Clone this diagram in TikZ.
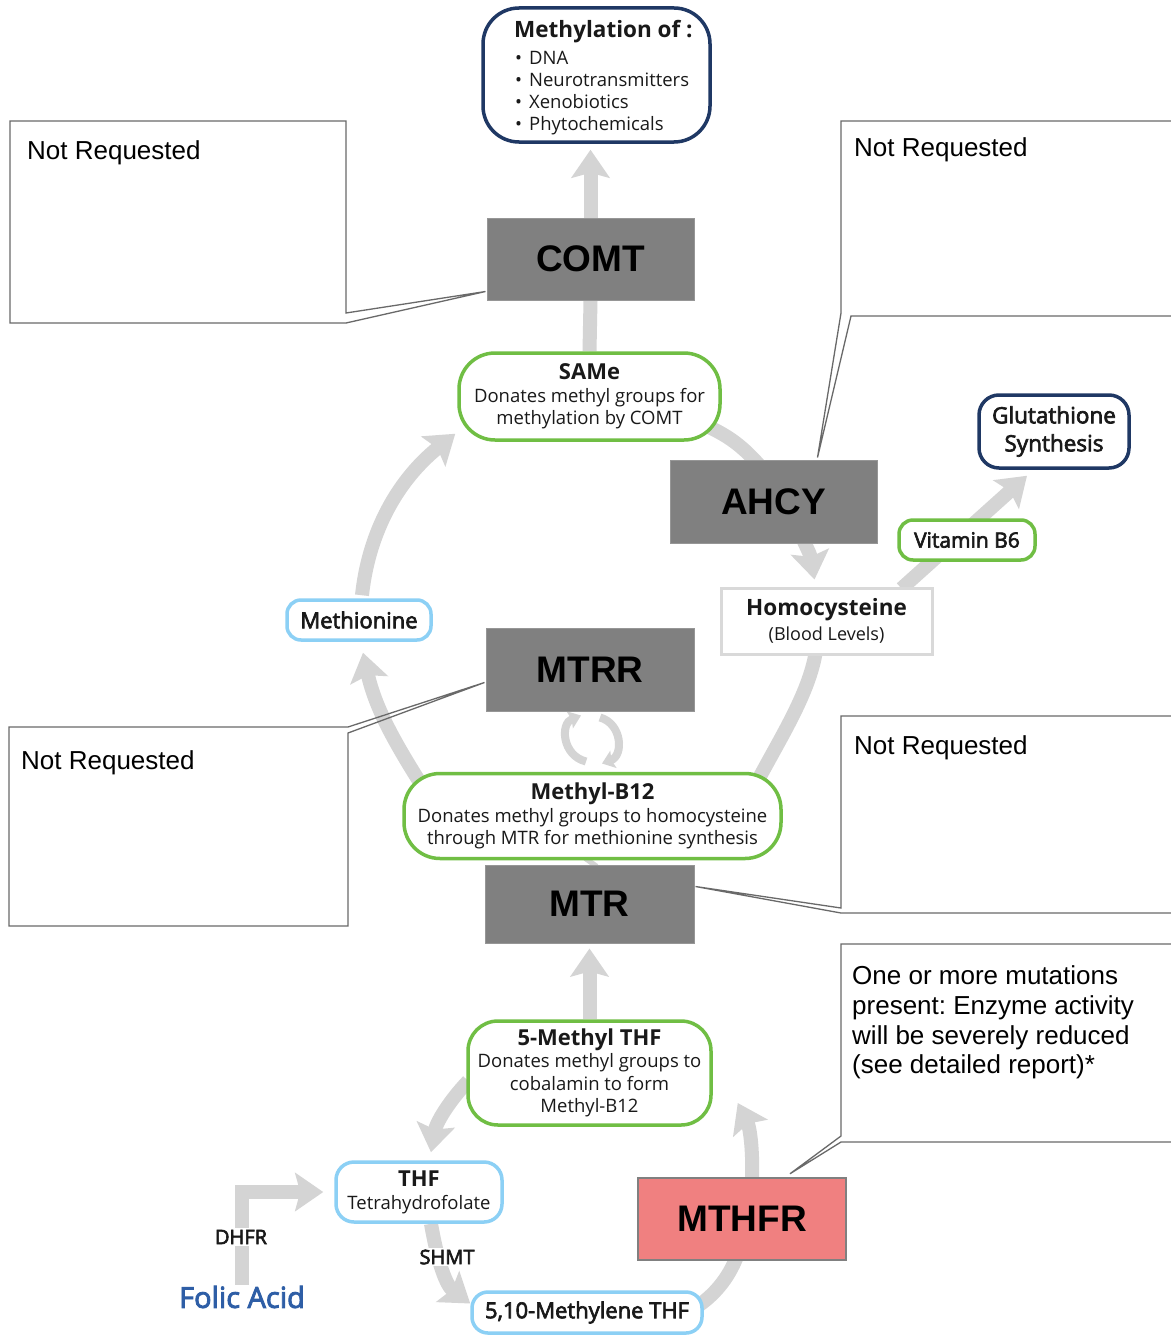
\documentclass[tikz,border=0pt]{standalone}
\usepackage{fontspec}
\setmainfont{Open Sans}
\newfontfamily\helv{Liberation Sans}
\newfontfamily\osmed[FakeBold=3]{Open Sans}
\usetikzlibrary{arrows.meta,backgrounds,calc}
\definecolor{navy}{RGB}{31,56,100}
\definecolor{boxgreen}{RGB}{112,190,68}
\definecolor{boxblue}{RGB}{140,208,245}
\definecolor{enzgray}{RGB}{128,128,128}
\definecolor{enzedge}{RGB}{150,150,150}
\definecolor{arrowgray}{RGB}{212,212,212}
\definecolor{hcygray}{RGB}{217,217,217}
\definecolor{coral}{RGB}{240,128,128}
\definecolor{folicblue}{RGB}{46,94,166}
\definecolor{calloutgray}{RGB}{105,105,105}
\definecolor{txt}{RGB}{25,25,25}
\frenchspacing
\begin{document}
\begin{tikzpicture}[x=1pt,y=-1pt,
  every node/.style={inner sep=0pt,text=txt},
  enz/.style={fill=enzgray,draw=enzedge,line width=1pt,font=\helv\bfseries\fontsize{37}{40}\selectfont,text=black},
  gbox/.style={draw=boxgreen,line width=3.5pt,fill=white,align=center},
  bbox/.style={draw=boxblue,line width=3.5pt,fill=white,align=center},
  nbox/.style={draw=navy,line width=3.5pt,fill=white,align=center},
  body/.style={font=\fontsize{18.5}{22.5}\selectfont},
  garrow/.style={draw=arrowgray,line width=14pt,-{Stealth[width=38pt,length=28pt,inset=5pt]}},
  gline/.style={draw=arrowgray,line width=14pt},
  carrow/.style={draw=arrowgray,line width=8pt,-{Stealth[width=18pt,length=12pt,inset=2pt]}},
  callout/.style={draw=calloutgray,line width=1.3pt},
  ctext/.style={font=\helv\fontsize{26}{30}\selectfont,anchor=base west,text=black},
  lbl/.style={fill=white,font=\osmed\fontsize{20}{24}\selectfont,inner sep=2pt}
]
\useasboundingbox (0,0) rectangle (1170,1335);

% ---------- boxes ----------
\node[nbox,minimum width=227pt,minimum height=134pt,rounded corners=36pt] (meth) at (596.5,75) {};
\node[anchor=base west,font=\bfseries\fontsize{22.5}{26}\selectfont] (mtitle) at (514,38) {Methylation of :};
\node[anchor=base west,font=\fontsize{18.5}{22}\selectfont] (m1) at (515,65) {\textbullet\hspace{7pt}DNA};
\node[anchor=base west,font=\fontsize{18.5}{22}\selectfont] (m2) at (515,87) {\textbullet\hspace{7pt}Neurotransmitters};
\node[anchor=base west,font=\fontsize{18.5}{22}\selectfont] (m3) at (515,109) {\textbullet\hspace{7pt}Xenobiotics};
\node[anchor=base west,font=\fontsize{18.5}{22}\selectfont] (m4) at (515,131) {\textbullet\hspace{7pt}Phytochemicals};

\node[enz,minimum width=207pt,minimum height=82pt] (comt) at (590.5,259) {COMT};
\node[gbox,body,minimum width=261pt,minimum height=87pt,rounded corners=36pt] (same) at (589.5,396.5)
  {\textbf{\fontsize{22}{22.5}\selectfont SAMe}\\Donates methyl groups for\\methylation by COMT};
\node[enz,minimum width=207pt,minimum height=83pt] (ahcy) at (773.5,501.5) {AHCY};
\node[draw=hcygray,line width=3pt,fill=white,align=center,minimum width=211pt,minimum height=66pt,font=\fontsize{18}{25}\selectfont] (hcy) at (826.5,621)
  {\textbf{\fontsize{22.5}{25}\selectfont Homocysteine}\\(Blood Levels)};
\node[gbox,minimum width=136pt,minimum height=40pt,rounded corners=14pt,font=\osmed\fontsize{21}{24}\selectfont] (vitb6) at (967,540) {Vitamin B6};
\node[nbox,minimum width=150pt,minimum height=73pt,rounded corners=20pt,font=\osmed\fontsize{22.5}{28}\selectfont] (glut) at (1054,431.5) {Glutathione\\Synthesis};
\node[bbox,minimum width=144pt,minimum height=40pt,rounded corners=14pt,font=\osmed\fontsize{22}{24}\selectfont] (methionine) at (359,620) {Methionine};
\node[enz,minimum width=208pt,minimum height=83pt] (mtrr) at (590,669.5) {MTRR};
\node[gbox,body,minimum width=377pt,minimum height=85pt,rounded corners=36pt] (mb12) at (592.5,816)
  {\textbf{\fontsize{22}{22.5}\selectfont Methyl-B12}\\Donates methyl groups to homocysteine\\through MTR for methionine synthesis};
\node[enz,minimum width=209pt,minimum height=78pt] (mtr) at (589.5,904) {MTR};
\node[gbox,body,minimum width=243pt,minimum height=104pt,rounded corners=30pt] (fmthf) at (589.5,1073)
  {\textbf{\fontsize{22}{22.5}\selectfont 5-Methyl THF}\\Donates methyl groups to\\cobalamin to form\\Methyl-B12};
\node[bbox,minimum width=166pt,minimum height=60pt,rounded corners=18pt,font=\fontsize{18.5}{23}\selectfont] (thf) at (419,1192)
  {\textbf{\fontsize{22}{23}\selectfont THF}\\Tetrahydrofolate};
\node[bbox,minimum width=230pt,minimum height=41pt,rounded corners=16pt,font=\osmed\fontsize{22}{24}\selectfont] (m510) at (587,1312.5) {5,10-Methylene THF};
\node[fill=coral,draw=enzgray,line width=2.5pt,minimum width=208pt,minimum height=82pt,font=\helv\bfseries\fontsize{37}{40}\selectfont,text=black] (mthfr) at (742,1219) {MTHFR};
\node[font=\osmed\fontsize{29}{32}\selectfont,text=folicblue,inner sep=1pt] (folic) at (242,1297) {Folic Acid};
\node[lbl] (dhfr) at (241,1237) {DHFR};
\node[lbl] (shmt) at (447,1257) {SHMT};

% ---------- gray arrows ----------
\begin{pgfonlayer}{background}
\fill[white] (0,0) rectangle (1170,1335);
\draw[garrow,shorten >=6pt] (comt.north) -- (comt.north |- meth.south);
\draw[gline] (comt.south) -- (same.north);
\draw[gline] ($(same.east)+(-14,30)$) .. controls ($(same.east)+(8,40)$) and ($(ahcy.north)+(-30,-12)$) .. ($(ahcy.north)+(-14,6)$);
\draw[garrow] ($(ahcy.south)+(30,-3)$) .. controls ($(ahcy.south)+(37,12)$) .. ($(hcy.north)+(-12,-7)$);
\draw[garrow] ($(hcy.north east)+(-32,2)$) -- ($(glut.south)+(-27,6)$);
\draw[gline] ($(hcy.south)+(-11,-2)$) .. controls ($(hcy.south)+(-18,38)$) and ($(mb12.north east)+(-1,-36)$) .. ($(mb12.north east)+(-24,7)$);
\draw[garrow] ($(mb12.north west)+(16,8)$) .. controls ($(mb12.north west)+(-9,-32)$) and ($(methionine.south)+(16,65)$) .. ($(methionine.south)+(4,11)$);
\draw[garrow] ($(methionine.north)+(3,-3)$) .. controls ($(methionine.north)+(9,-60)$) and ($(same.south west)+(-64,42)$) .. ($(same.south west)+(-2,-8)$);
\draw[gline] (mb12.south) -- (mtr.north);
\draw[garrow,shorten >=5pt] (fmthf.north) -- (mtr.south);
\draw[garrow] ($(fmthf.west)+(2,8)$) .. controls ($(fmthf.west)+(-18,29)$) and ($(thf.north)+(17,-37)$) .. ($(thf.north)+(12,-8)$);
\draw[garrow] ($(thf.south)+(12,0)$) .. controls ($(thf.south)+(19,40)$) and ($(m510.west)+(-24,-27)$) .. ($(m510.west)+(0,-9)$);
\draw[gline] ($(m510.east)+(-8,-5)$) .. controls ($(m510.east)+(10,-17)$) and ($(mthfr.south)+(-14,18)$) .. ($(mthfr.south)+(-5,-5)$);
\draw[garrow] ($(mthfr.north)+(10,2)$) .. controls ($(mthfr.north)+(11,-28)$) and ($(fmthf.east)+(37,54)$) .. ($(fmthf.east)+(25,30)$);
\draw[garrow,shorten >=11pt] (folic.north) |- (thf.west);
% recycling arrows under MTRR
\draw[carrow] ($(mtrr.south)+(-4,50)$) .. controls ($(mtrr.south)+(-28,44)$) and ($(mtrr.south)+(-30,12)$) .. ($(mtrr.south)+(-9,4)$);
\draw[carrow] ($(mtrr.south)+(10,6)$) .. controls ($(mtrr.south)+(32,12)$) and ($(mtrr.south)+(34,44)$) .. ($(mtrr.south)+(12,52)$);
\end{pgfonlayer}

% ---------- callouts ----------
\draw[callout] (10,121) -- (346,121) -- (346,313) -- ($(comt.south west)+(-1,-9)$) -- (346,323) -- (10,323) -- cycle;
\node[ctext] (nr1) at (27,159) {Not Requested};

\draw[callout] (1175,316) -- (851,316) -- ($(ahcy.north)+(44,-2)$) -- (841,313) -- (841,121) -- (1175,121);
\node[ctext] (nr2) at (854,157) {Not Requested};

\draw[callout] (348,926) -- (9,926) -- (9,727) -- (348,727) -- ($(mtrr.north west)+(-1,55)$) -- (348,733) -- cycle;
\node[ctext] (nr3) at (21,769) {Not Requested};

\draw[callout] (1175,716) -- (841,716) -- (841,908) -- ($(mtr.north east)+(1,22)$) -- (841,913) -- (1175,913);
\node[ctext] (nr4) at (854,754) {Not Requested};

\draw[callout] (1175,944) -- (841,944) -- (841,1136) -- ($(mthfr.north)+(48,-3)$) -- (841,1142) -- (1175,1142);
\node[ctext] (br1) at (852,984) {One or more mutations};
\node[ctext] (br2) at (852,1014) {present: Enzyme activity};
\node[ctext] (br3) at (852,1044) {will be severely reduced};
\node[ctext] (br4) at (852,1073) {(see detailed report)*};
\end{tikzpicture}
\end{document}
